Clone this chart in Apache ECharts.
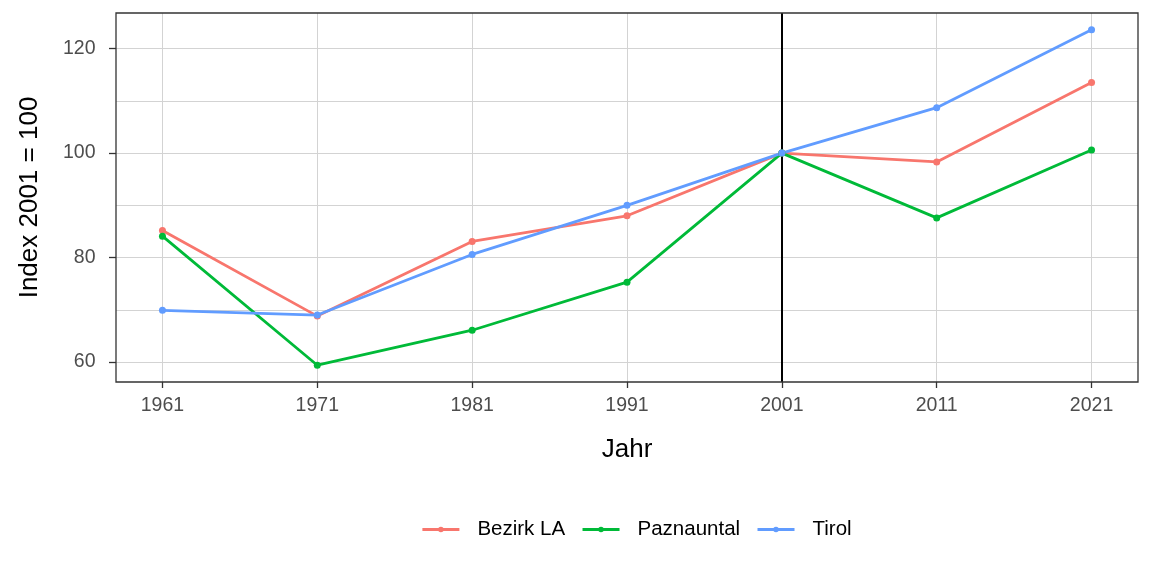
<!DOCTYPE html>
<html>
<head>
<meta charset="utf-8">
<script src="https://cdn.jsdelivr.net/npm/echarts@6/dist/echarts.min.js"></script>
<style>html,body{margin:0;padding:0;background:#fff}#c{width:1152px;height:576px}</style>
</head>
<body>
<div id="c"></div>
<script>
const years = [1961, 1971, 1981, 1991, 2001, 2011, 2021];
const seriesNames = ['Bezirk LA', 'Paznauntal', 'Tirol'];
const bezirkLA = [85.2, 68.8, 83.1, 88.0, 100, 98.3, 113.5];
const paznauntal = [84.1, 59.4, 66.1, 75.3, 100, 87.6, 100.6];
const tirol = [69.9, 69.0, 80.6, 90.0, 100, 108.7, 123.6];
const yTicks = [60, 80, 100, 120];
const yMinor = [70, 90, 110];
const refYear = 2001;
const colors = ['#F8766D', '#00BA38', '#619CFF'];

const font = 'Liberation Sans, Arial, sans-serif';
const allVals = bezirkLA.concat(paznauntal, tirol);
const yLo = Math.min(...allVals), yHi = Math.max(...allVals);
const yPad = (yHi - yLo) * 0.05;
const xPad = (years[years.length - 1] - years[0]) * 0.05;

function mk(name, vals, i) {
  const s = {
    name: name, type: 'line',
    data: years.map((y, k) => [y, vals[k]]),
    symbol: 'circle', symbolSize: 7, showSymbol: true,
    lineStyle: {width: 2.8, color: colors[i]},
    itemStyle: {color: colors[i]},
    emphasis: {disabled: true},
    z: 3
  };
  if (i === 0) {
    s.markLine = {
      silent: true, symbol: 'none', label: {show: false},
      lineStyle: {color: '#000', width: 2, type: 'solid'},
      data: [{xAxis: refYear}], z: 1
    };
  }
  return s;
}

const chart = echarts.init(document.getElementById('c'), null, {renderer: 'canvas'});
chart.setOption({
  animation: false,
  backgroundColor: '#fff',
  color: colors,
  grid: {left: 116, right: 14, top: 13, bottom: 194, show: true, borderColor: '#333', borderWidth: 1.3, backgroundColor: 'transparent', z: 5},
  legend: {
    bottom: 31, left: 416,
    itemWidth: 37, itemHeight: 7, itemGap: 16,
    data: seriesNames,
    lineStyle: {width: 2.8},
    textStyle: {fontFamily: font, fontSize: 20.5, color: '#000', padding: [0, 0, 0, 13]}
  },
  xAxis: {
    type: 'value', min: years[0] - xPad, max: years[years.length - 1] + xPad,
    name: 'Jahr', nameLocation: 'middle', nameGap: 55,
    nameTextStyle: {fontFamily: font, fontSize: 26, color: '#000'},
    axisLine: {show: false},
    axisTick: {show: true, length: 6, lineStyle: {color: '#333', width: 1.3}, customValues: years},
    axisLabel: {fontFamily: font, fontSize: 19.5, color: '#4d4d4d', margin: 14, customValues: years, formatter: v => String(v)},
    splitLine: {show: true, lineStyle: {color: '#d3d3d3', width: 1}}
  },
  yAxis: [{
    type: 'value', min: yLo - yPad, max: yHi + yPad,
    name: 'Index 2001 = 100', nameLocation: 'middle', nameGap: 73,
    nameTextStyle: {fontFamily: font, fontSize: 26, color: '#000'},
    axisLine: {show: false},
    axisTick: {show: true, length: 7, lineStyle: {color: '#333', width: 1.3}, customValues: yTicks},
    axisLabel: {fontFamily: font, fontSize: 19.5, color: '#4d4d4d', margin: 20.5, customValues: yTicks},
    splitLine: {show: true, lineStyle: {color: '#d3d3d3', width: 1}}
  }, {
    type: 'value', min: yLo - yPad, max: yHi + yPad, position: 'left',
    axisLine: {show: false},
    axisTick: {show: false, customValues: yMinor},
    axisLabel: {show: false, customValues: yMinor},
    splitLine: {show: true, lineStyle: {color: '#d3d3d3', width: 1}}
  }],
  series: [mk(seriesNames[0], bezirkLA, 0), mk(seriesNames[1], paznauntal, 1), mk(seriesNames[2], tirol, 2)]
});
</script>
</body>
</html>
